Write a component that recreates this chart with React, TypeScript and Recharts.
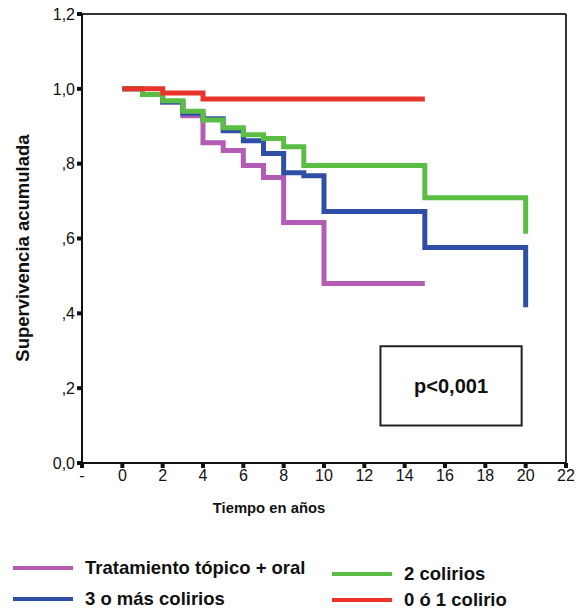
import React from "react";
import {
  LineChart, Line, XAxis, YAxis, ReferenceLine, ReferenceArea,
} from "recharts";

// Kaplan-Meier steps (time in years, cumulative survival)
const topicoT = [0, 1, 2, 3, 4, 5, 6, 7, 8, 10, 15];
const topicoS = [1, 0.985, 0.965, 0.928, 0.856, 0.835, 0.795, 0.763, 0.643, 0.48, 0.48];

const tresT = [0, 1, 2, 3, 4, 5, 6, 7, 8, 9, 10, 15, 20];
const tresS = [1, 0.985, 0.965, 0.935, 0.92, 0.888, 0.861, 0.827, 0.776, 0.768, 0.672, 0.576, 0.416];

const dosT = [0, 1, 2, 3, 4, 5, 6, 7, 8, 9, 15, 20];
const dosS = [1, 0.985, 0.968, 0.94, 0.917, 0.896, 0.877, 0.867, 0.845, 0.795, 0.709, 0.613];

const ceroT = [0, 2, 4, 15];
const ceroS = [1, 0.989, 0.973, 0.973];

const xTicks = [-2, 0, 2, 4, 6, 8, 10, 12, 14, 16, 18, 20, 22];
const yTicks = [0, 0.2, 0.4, 0.6, 0.8, 1.0, 1.2];

const C = {
  purple: "#b35cb3",
  blue: "#2f4ea5",
  green: "#5cbd45",
  red: "#e8342a",
  ink: "#111",
};

const FONT = "'Liberation Sans', Arial, sans-serif";

const toRows = (t: number[], s: number[]) => t.map((x, i) => ({ t: x, s: s[i] }));

const series = [
  { name: "Tratamiento tópico + oral", color: C.purple, data: toRows(topicoT, topicoS) },
  { name: "3 o más colirios", color: C.blue, data: toRows(tresT, tresS) },
  { name: "2 colirios", color: C.green, data: toRows(dosT, dosS) },
  { name: "0 ó 1 colirio", color: C.red, data: toRows(ceroT, ceroS) },
];

const fmtY = (v: number) => {
  if (v === 0) return "0,0";
  const s = v.toFixed(1);
  return v < 1 ? s.replace("0.", ",") : s.replace(".", ",");
};

const fmtX = (v: number) => (v < 0 ? "-" : String(v));

const tick = { fill: C.ink, fontSize: 16, fontFamily: FONT };

function LegendItem({ x, y, color, label }: { x: number; y: number; color: string; label: string }) {
  return (
    <div style={{ position: "absolute", left: x, top: y - 12, height: 24, display: "flex", alignItems: "center" }}>
      <div style={{ width: 60, height: 4, background: color, marginRight: 12 }} />
      <span style={{ fontFamily: FONT, fontWeight: 700, fontSize: 18.5, color: C.ink, whiteSpace: "nowrap" }}>{label}</span>
    </div>
  );
}

export default function App() {
  return (
    <div style={{ position: "absolute", left: 0, top: 0, width: 580, height: 610, background: "#fff" }}>
      <LineChart width={580} height={530} margin={{ top: 14, right: 14, bottom: 37, left: 0 }}>
        <XAxis dataKey="t" type="number" domain={[-2, 22]} ticks={xTicks} tickFormatter={fmtX}
          allowDataOverflow interval={0} height={30}
          axisLine={{ stroke: C.ink, strokeWidth: 2 }}
          tickLine={{ stroke: C.ink, strokeWidth: 4 }} tickSize={5} tick={tick} />
        <YAxis dataKey="s" type="number" domain={[0, 1.2]} ticks={yTicks} tickFormatter={fmtY}
          allowDataOverflow interval={0} width={82}
          axisLine={{ stroke: C.ink, strokeWidth: 2 }}
          tickLine={{ stroke: C.ink, strokeWidth: 4 }} tickSize={5} tick={tick} />
        <ReferenceLine y={1.2} stroke="#333" strokeWidth={2} />
        <ReferenceLine x={22} stroke="#333" strokeWidth={2} />
        <ReferenceArea x1={12.8} x2={19.8} y1={0.1} y2={0.312} fill="#fff" fillOpacity={1}
          stroke="#222" strokeWidth={2}
          label={{ value: "p<0,001", position: "center", fill: C.ink, fontSize: 20, fontWeight: 700, fontFamily: FONT }} />
        {series.map((s) => (
          <Line key={s.name} data={s.data} dataKey="s" name={s.name} type="stepAfter"
            stroke={s.color} strokeWidth={5} dot={false} activeDot={false}
            strokeLinejoin="miter" isAnimationActive={false} />
        ))}
      </LineChart>

      <div style={{
        position: "absolute", left: 23, top: 248, transform: "translate(-50%, -50%) rotate(-90deg)",
        fontFamily: FONT, fontWeight: 700, fontSize: 18.5, color: C.ink, whiteSpace: "nowrap",
      }}>
        Supervivencia acumulada
      </div>
      <div style={{
        position: "absolute", left: 269, top: 508, transform: "translate(-50%, -50%)",
        fontFamily: FONT, fontWeight: 700, fontSize: 14.8, color: C.ink, whiteSpace: "nowrap",
      }}>
        Tiempo en años
      </div>

      <LegendItem x={13} y={568} color={series[0].color} label={series[0].name} />
      <LegendItem x={13} y={599} color={series[1].color} label={series[1].name} />
      <LegendItem x={332} y={574} color={series[2].color} label={series[2].name} />
      <LegendItem x={332} y={600} color={series[3].color} label={series[3].name} />
    </div>
  );
}
